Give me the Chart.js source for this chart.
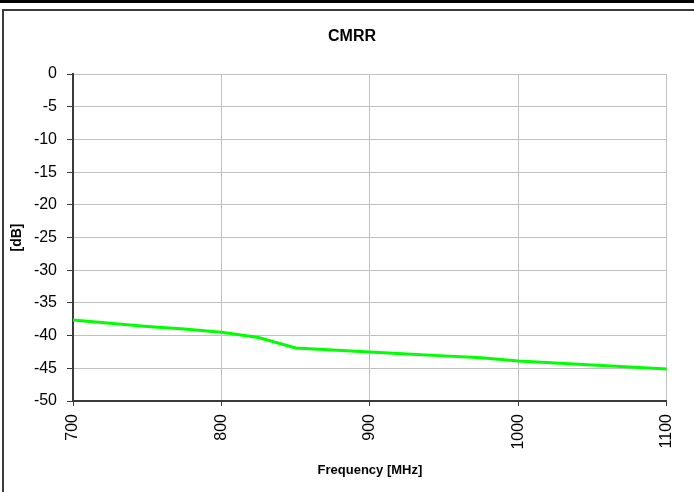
<!DOCTYPE html>
<html>
<head>
<meta charset="utf-8">
<script src="https://cdn.jsdelivr.net/npm/chart.js@4/dist/chart.umd.min.js"></script>
<style>
  html, body { margin: 0; padding: 0; background: #ffffff; }
  #wrap { position: relative; width: 694px; height: 492px; overflow: hidden; background: #fff; }
  #rule { position: absolute; left: 0; top: 0; width: 694px; height: 3px; background: #000; }
  #frame { position: absolute; left: 2px; top: 9px; width: 692px; height: 483px;
           border-top: 2px solid #3a3a3a; border-left: 2px solid #3a3a3a; box-sizing: border-box; }
  canvas { position: absolute; left: 0; top: 0; }
</style>
</head>
<body>
<div id="wrap">
  <div id="rule"></div>
  <div id="frame"></div>
  <canvas id="c" width="694" height="492"></canvas>
</div>
<script>
const titleText = "CMRR";
const xTitle = "Frequency [MHz]";
const yTitle = "[dB]";
const frequencies = [700, 725, 750, 775, 800, 825, 850, 875, 900, 925, 950, 975, 1000, 1025, 1050, 1075, 1100];
const cmrrValues = [-37.6, -38.1, -38.6, -39.0, -39.5, -40.3, -41.9, -42.2, -42.5, -42.8, -43.1, -43.4, -43.9, -44.2, -44.5, -44.8, -45.1];
const xMin = 700, xMax = 1100, xStep = 100;
const yMin = -50, yMax = 0, yStep = 5;

const FONT = "'Liberation Sans', Arial, sans-serif";

const titlePlugin = {
  id: 'customTitle',
  afterDraw(chart) {
    const ctx = chart.ctx;
    ctx.save();
    ctx.font = "bold 16px " + FONT;
    ctx.fillStyle = "#000";
    ctx.textAlign = "center";
    ctx.textBaseline = "middle";
    ctx.fillText(titleText, 352, 37);
    ctx.restore();
  }
};

new Chart(document.getElementById('c'), {
  type: 'line',
  data: {
    datasets: [{
      data: frequencies.map((f, i) => ({ x: f, y: cmrrValues[i] })),
      borderColor: '#00ff00',
      borderWidth: 3,
      pointRadius: 0,
      tension: 0,
      fill: false
    }]
  },
  options: {
    responsive: false,
    animation: false,
    devicePixelRatio: 1,
    layout: { padding: { top: 74, right: 27, left: 0, bottom: 0 } },
    plugins: { legend: { display: false }, tooltip: { enabled: false }, title: { display: false } },
    scales: {
      x: {
        type: 'linear',
        min: xMin, max: xMax,
        afterFit: (s) => { s.height = 91; },
        ticks: {
          stepSize: xStep,
          minRotation: 90, maxRotation: 90,
          padding: 8,
          color: '#000',
          font: { family: FONT, size: 16 },
          callback: (v) => String(v)
        },
        grid: { color: '#c0c0c0', lineWidth: 1, tickColor: '#3a3a3a', tickLength: 5, drawTicks: true },
        border: { color: '#3a3a3a', width: 2 },
        title: {
          display: true, text: xTitle, color: '#000',
          font: { family: FONT, size: 13, weight: 'bold' },
          padding: { top: 0, bottom: 14 }
        }
      },
      y: {
        type: 'linear',
        min: yMin, max: yMax,
        afterFit: (s) => { s.width = 73; },
        ticks: {
          stepSize: yStep,
          padding: 10,
          color: '#000',
          font: { family: FONT, size: 16 },
          callback: (v) => String(v)
        },
        grid: { color: '#c0c0c0', lineWidth: 1, tickColor: '#3a3a3a', tickLength: 6, drawTicks: true },
        border: { color: '#3a3a3a', width: 2 },
        title: {
          display: true, text: yTitle, color: '#000',
          font: { family: FONT, size: 14, weight: 'bold' },
          padding: { top: 9, bottom: 0 }
        }
      }
    }
  },
  plugins: [titlePlugin]
});
</script>
</body>
</html>
